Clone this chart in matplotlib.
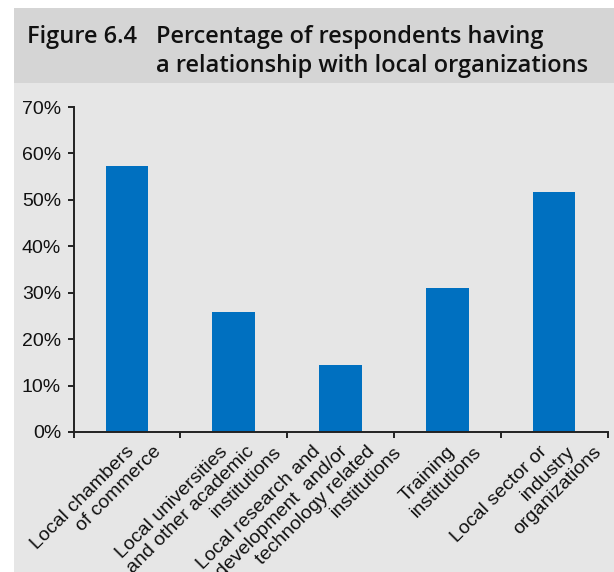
import matplotlib.pyplot as plt
from matplotlib.patches import Rectangle
from matplotlib.ticker import FuncFormatter

# data
categories = [
    "Local chambers\nof commerce",
    "Local universities\nand other academic\ninstitutions",
    "Local research and\ndevelopment  and/or\ntechnology related\ninstitutions",
    "Training\ninstitutions",
    "Local sector or\nindustry\norganizations",
]
shares = [57.3, 25.8, 14.4, 31.0, 51.7]
y_ticks = [0, 10, 20, 30, 40, 50, 60, 70]

plt.rcParams["font.family"] = ["Liberation Sans", "DejaVu Sans"]
plt.rcParams["font.size"] = 14

fig_w, fig_h = 614, 572
fig = plt.figure(figsize=(fig_w / 100, fig_h / 100), dpi=100, facecolor="white")

# grey panel and darker title band
fig.patches.append(Rectangle((14 / fig_w, 0), 1, 1 - 8 / fig_h, transform=fig.transFigure,
                             facecolor="#e6e6e6", edgecolor="none", zorder=-2))
fig.patches.append(Rectangle((14 / fig_w, 1 - 83 / fig_h), 1, 75 / fig_h, transform=fig.transFigure,
                             facecolor="#d5d5d5", edgecolor="none", zorder=-1))

title_font = dict(family="Open Sans", fontsize=17, fontweight="semibold", color="#111111")
fig.text(27 / fig_w, 1 - 43 / fig_h, "Figure 6.4", va="baseline", ha="left", **title_font)
fig.text(156 / fig_w, 1 - 43 / fig_h, "Percentage of respondents having", va="baseline", ha="left", **title_font)
fig.text(156 / fig_w, 1 - 72 / fig_h, "a relationship with local organizations", va="baseline", ha="left", **title_font)

ax = fig.add_axes([73.5 / fig_w, 1 - 432 / fig_h, (607.5 - 73.5) / fig_w, (432 - 107) / fig_h])
ax.set_facecolor("none")
ax.set_zorder(2)

x = list(range(len(categories)))
ax.bar(x, shares, width=0.4, color="#0070c0", zorder=2)

ax.set_xlim(-0.5, len(categories) - 0.5)
ax.set_ylim(0, 70)
ax.set_yticks(y_ticks)
ax.yaxis.set_major_formatter(FuncFormatter(lambda v, p: f"{v:.0f}%"))

ax.set_xticks([i - 0.5 for i in range(len(categories) + 1)])
ax.set_xticklabels([])
for sp in ["top", "right"]:
    ax.spines[sp].set_visible(False)
for sp in ["left", "bottom"]:
    ax.spines[sp].set_color("#222222")
    ax.spines[sp].set_linewidth(1.4)
ax.tick_params(axis="both", direction="out", length=4, width=1.4, color="#222222")
ax.tick_params(axis="y", labelsize=14, labelcolor="#111111", pad=5)

# rotated category labels, excel style: every line ends at the same height
px = 0.72  # pixels -> points
for i, name in enumerate(categories):
    lines = name.split("\n")
    n = len(lines)
    for j, line in enumerate(lines):
        dx = (12 + (j - (n - 1) / 2) * 27) * px
        ax.annotate(line, xy=(i, 0), xycoords=("data", "axes fraction"),
                    xytext=(dx, -11 * px), textcoords="offset points",
                    rotation=45, rotation_mode="anchor", ha="right", va="top",
                    fontsize=14, color="#111111", annotation_clip=False)

fig.savefig("out.png", dpi=100, facecolor=fig.get_facecolor())
